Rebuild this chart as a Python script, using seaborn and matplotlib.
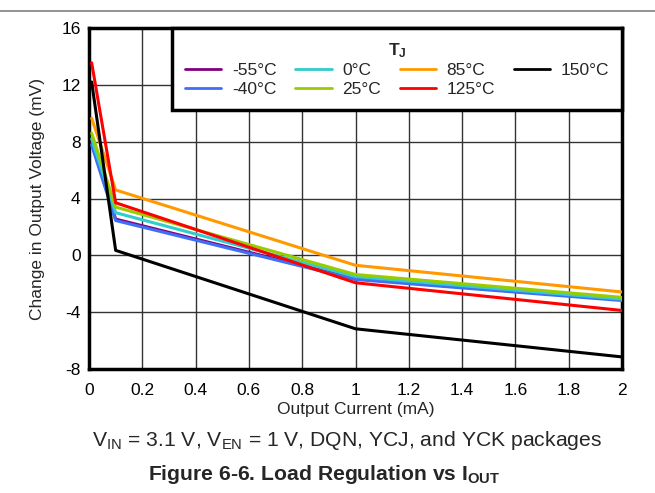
import matplotlib
matplotlib.use("Agg")
import matplotlib.pyplot as plt
from matplotlib.lines import Line2D
import seaborn as sns
import pandas as pd

# Data
current_ma = [0.01, 0.1, 1.0, 2.0]
temps = ["-55°C", "-40°C", "0°C", "25°C", "85°C", "125°C", "150°C"]
dv_m55 = [7.9, 2.55, -1.65, -3.12]
dv_m40 = [7.75, 2.45, -1.7, -3.18]
dv_0 = [8.2, 3.0, -1.5, -3.08]
dv_25 = [8.6, 3.4, -1.35, -2.96]
dv_85 = [9.65, 4.6, -0.7, -2.58]
dv_125 = [13.55, 3.7, -1.93, -3.88]
dv_150 = [12.2, 0.35, -5.17, -7.15]
colors = ["#800080", "#3F6FF5", "#33CCCC", "#99CC00", "#FF9900", "#FF0000", "#000000"]
series = [dv_m55, dv_m40, dv_0, dv_25, dv_85, dv_125, dv_150]
xticks = [0, 0.2, 0.4, 0.6, 0.8, 1, 1.2, 1.4, 1.6, 1.8, 2]
xticklabels = ["0", "0.2", "0.4", "0.6", "0.8", "1", "1.2", "1.4", "1.6", "1.8", "2"]
yticks = [-8, -4, 0, 4, 8, 12, 16]

rows = []
for t, vals in zip(temps, series):
    for x, v in zip(current_ma, vals):
        rows.append({"Output Current (mA)": x, "dV": v, "T": t})
df = pd.DataFrame(rows)

sns.set_theme(style="white")
plt.rcParams["font.family"] = ["Liberation Sans", "DejaVu Sans"]
plt.rcParams["mathtext.fontset"] = "custom"
plt.rcParams["mathtext.rm"] = "Liberation Sans"
plt.rcParams["mathtext.bf"] = "Liberation Sans:bold"
plt.rcParams["mathtext.default"] = "regular"
plt.rcParams["axes.unicode_minus"] = False

fig = plt.figure(figsize=(6.55, 4.93), dpi=100)
ax = fig.add_axes([89/655, 1-369/493, (622-89)/655, (369-28)/493])

sns.lineplot(data=df, x="Output Current (mA)", y="dV", hue="T", hue_order=temps,
             palette=dict(zip(temps, colors)), linewidth=2.2, ax=ax, legend=False,
             zorder=3)

ax.set_xlim(0, 2)
ax.set_ylim(-8, 16)
ax.set_xticks(xticks)
ax.set_xticklabels(xticklabels)
ax.set_yticks(yticks)
ax.set_yticklabels([str(v) for v in yticks])
ax.tick_params(axis="both", length=0, labelsize=12.5, colors="black")
ax.tick_params(axis="x", pad=10)
ax.tick_params(axis="y", pad=6)
ax.grid(True, color="#333333", linewidth=1)
for s in ax.spines.values():
    s.set_visible(True)
    s.set_color("black")
    s.set_linewidth(2.5)

ax.set_xlabel("Output Current (mA)", fontsize=12.5, labelpad=3)
ax.set_ylabel("Change in Output Voltage (mV)", fontsize=12.5, labelpad=12)

handles = [Line2D([0], [0], color=c, lw=2) for c in colors]
x0 = (172-89)/533
leg = ax.legend(handles, temps, title="T$_{J}$", ncol=4, loc="upper right",
                bbox_to_anchor=(x0, 0, 1-x0, 1), mode="expand",
                borderaxespad=0, fancybox=False, frameon=True, fontsize=12.5,
                title_fontproperties={"weight": "bold", "size": 12.5},
                handlelength=2.1, columnspacing=0.7, labelspacing=0.2,
                borderpad=0.75, handletextpad=0.6)
leg.get_frame().set_edgecolor("black")
leg.get_frame().set_linewidth(2.5)
leg.get_frame().set_alpha(1)
leg.set_zorder(5)

fig.text(347/655, 1-440/493, "V$_{IN}$ = 3.1 V, V$_{EN}$ = 1 V, DQN, YCJ, and YCK packages",
         ha="center", va="center", fontsize=15.2)
fig.text(324/655, 1-475/493, r"Figure 6-6. Load Regulation vs I$_{\mathbf{OUT}}$",
         ha="center", va="center", fontsize=15.2, fontweight="bold")

fig.add_artist(Line2D([0, 1], [1-11/493, 1-11/493], color="#808080", lw=1.2,
                      transform=fig.transFigure))

fig.savefig("out.png", dpi=100, facecolor="white")
